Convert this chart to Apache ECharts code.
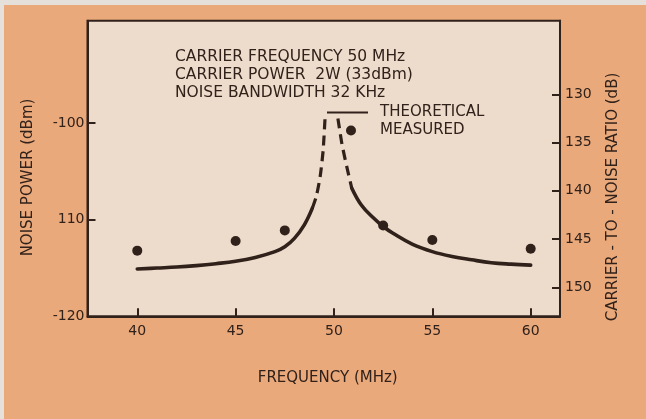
<!DOCTYPE html>
<html>
<head>
<meta charset="utf-8">
<script src="https://cdn.jsdelivr.net/npm/echarts@6/dist/echarts.min.js"></script>
<style>
  html, body { margin: 0; padding: 0; background: #e6e0da; }
  #chart { width: 646px; height: 419px; }
</style>
</head>
<body>
<div id="chart"></div>
<script>
// Noise power around a 50 MHz carrier: theoretical curve and measured points.
const notes = ['CARRIER FREQUENCY 50 MHz', 'CARRIER POWER  2W (33dBm)', 'NOISE BANDWIDTH 32 KHz'];

const freqTicks = [40, 45, 50, 55, 60];
const noiseTicks = [-120, -110, -100];
const noiseTickLabels = ['-120', '110', '-100'];
const cnrTicks = [130, 135, 140, 145, 150];
const carrierPowerDbm = 33;

// Theoretical curve, split into solid flanks and dashed skirts near the carrier.
const theoLeftFreq = [40, 41, 42, 43, 44, 45, 46, 47, 47.5, 48, 48.5, 48.9];
const theoLeftNoise = [-115.1, -115.0, -114.9, -114.75, -114.55, -114.3, -113.9, -113.3, -112.8, -111.9, -110.5, -108.8];
const theoLeftDashFreq = [48.9, 49.1, 49.3, 49.45, 49.55];
const theoLeftDashNoise = [-108.8, -107.6, -105.5, -102.8, -99.3];
const theoRightDashFreq = [50.2, 50.4, 50.65, 50.9];
const theoRightDashNoise = [-99.5, -102.1, -104.5, -106.7];
const theoRightFreq = [50.9, 51.4, 52, 52.5, 53, 54, 55, 56, 57, 58, 59, 60];
const theoRightNoise = [-106.7, -108.5, -109.8, -110.7, -111.4, -112.55, -113.3, -113.8, -114.15, -114.45, -114.6, -114.7];

// Measured noise power.
const measFreq = [40, 45, 47.5, 52.5, 55, 60];
const measNoise = [-113.2, -112.2, -111.1, -110.6, -112.1, -113.0];

const ink = '#30211a';
const font = 'DejaVu Sans';

const pairs = (xs, ys) => xs.map((x, i) => [x, ys[i]]);

const noiseMin = -120, noiseMax = -89.38;

const textStyle = size => ({ fontFamily: font, fontSize: size, color: ink });
const tickStyle = values => ({ show: true, inside: true, length: 8, customValues: values, lineStyle: { color: ink, width: 2 } });

const chart = echarts.init(document.getElementById('chart'), null, { renderer: 'canvas' });
chart.setOption({
  animation: false,
  backgroundColor: '#eaa97b',
  graphic: [
    { type: 'rect', shape: { x: 0, y: 0, width: 646, height: 5 }, style: { fill: '#e6e0da' }, z: -10, silent: true },
    { type: 'rect', shape: { x: 0, y: 0, width: 4, height: 419 }, style: { fill: '#e6e0da' }, z: -10, silent: true }
  ],
  title: {
    text: notes.join('\n'),
    left: 175,
    top: 48,
    padding: 0,
    textStyle: { fontFamily: font, fontSize: 15.5, fontWeight: 'normal', color: ink, lineHeight: 18 }
  },
  legend: [
    {
      data: [{ name: 'THEORETICAL', icon: 'rect' }],
      left: 327, top: 105, padding: 0,
      itemWidth: 41, itemHeight: 2,
      selectedMode: false,
      textStyle: Object.assign(textStyle(15), { padding: [2, 0, 0, 7] })
    },
    {
      data: [{ name: 'MEASURED', icon: 'circle' }],
      left: 346, top: 123, padding: 0,
      itemWidth: 10, itemHeight: 10,
      selectedMode: false,
      textStyle: Object.assign(textStyle(15), { padding: [2, 0, 0, 19] })
    }
  ],
  grid: {
    left: 87.5, right: 86, top: 20.7, bottom: 102.7,
    show: true, backgroundColor: '#eddccc', borderColor: ink, borderWidth: 2
  },
  xAxis: {
    type: 'value', min: 37.47, max: 61.49,
    name: 'FREQUENCY (MHz)', nameLocation: 'middle', nameGap: 54,
    nameTextStyle: Object.assign(textStyle(15), { padding: [0, 0, 0, 8] }),
    axisLine: { show: true, lineStyle: { color: ink, width: 2 } },
    axisTick: tickStyle(freqTicks),
    axisLabel: Object.assign(textStyle(14), { customValues: freqTicks, margin: 8 }),
    splitLine: { show: false }
  },
  yAxis: [
    {
      type: 'value', min: noiseMin, max: noiseMax, position: 'left',
      name: 'NOISE POWER (dBm)', nameLocation: 'middle', nameGap: 52,
      nameTextStyle: Object.assign(textStyle(15), { padding: [0, 18, 0, 0] }),
      axisLine: { show: true, lineStyle: { color: ink, width: 2 } },
      axisTick: tickStyle(noiseTicks),
      axisLabel: Object.assign(textStyle(14), {
        customValues: noiseTicks, margin: 3,
        formatter: v => noiseTickLabels[noiseTicks.indexOf(Math.round(v))]
      }),
      splitLine: { show: false }
    },
    {
      type: 'value', inverse: true, position: 'right',
      min: carrierPowerDbm - noiseMax, max: carrierPowerDbm - noiseMin,
      name: 'CARRIER - TO - NOISE RATIO (dB)', nameLocation: 'middle', nameGap: 46,
      nameTextStyle: Object.assign(textStyle(15), { padding: [0, 57, 0, 0] }),
      axisLine: { show: true, lineStyle: { color: ink, width: 2 } },
      axisTick: tickStyle(cnrTicks),
      axisLabel: Object.assign(textStyle(14), { customValues: cnrTicks, margin: 5 }),
      splitLine: { show: false }
    }
  ],
  series: [
    {
      name: 'THEORETICAL', type: 'line', data: pairs(theoLeftFreq, theoLeftNoise),
      smooth: 0.4, showSymbol: false, color: ink,
      lineStyle: { color: ink, width: 3.6, cap: 'round' }
    },
    {
      name: 'THEORETICAL', type: 'line', data: pairs(theoLeftDashFreq, theoLeftDashNoise),
      smooth: 0.2, showSymbol: false, color: ink,
      lineStyle: { color: ink, width: 3.2, type: [10, 6] }
    },
    {
      name: 'THEORETICAL', type: 'line', data: pairs(theoRightDashFreq, theoRightDashNoise),
      smooth: 0.2, showSymbol: false, color: ink,
      lineStyle: { color: ink, width: 3.2, type: [10, 6] }
    },
    {
      name: 'THEORETICAL', type: 'line', data: pairs(theoRightFreq, theoRightNoise),
      smooth: 0.4, showSymbol: false, color: ink,
      lineStyle: { color: ink, width: 3.6, cap: 'round' }
    },
    {
      name: 'MEASURED', type: 'scatter', data: pairs(measFreq, measNoise),
      symbol: 'circle', symbolSize: 10, color: ink, itemStyle: { color: ink, opacity: 1 }
    }
  ]
});
</script>
</body>
</html>
